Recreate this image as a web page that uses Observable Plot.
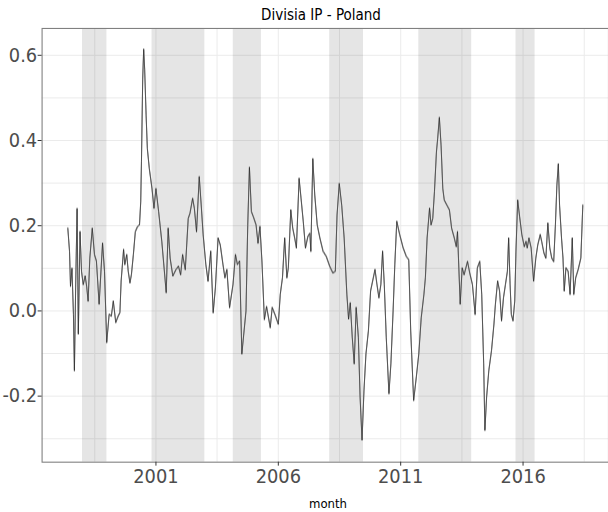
<!DOCTYPE html>
<html>
<head>
<meta charset="utf-8">
<script src="https://cdn.jsdelivr.net/npm/d3@7"></script>
<script src="https://cdn.jsdelivr.net/npm/@observablehq/plot@0.6"></script>
<style>
  html, body { margin: 0; padding: 0; background: #fff; }
  body { width: 608px; height: 512px; overflow: hidden; font-family: "Liberation Sans Narrow", "DejaVu Sans Condensed", "Liberation Sans", Arial, sans-serif; }
  #title { position: relative; height: 24px; }
  #title span { position: absolute; left: 0; width: 642px; top: 8px; text-align: center; font-size: 15px; line-height: 15px; color: #000; }
  #chart { width: 608px; height: 470px; overflow: hidden; }
  #xlab { position: relative; height: 18px; }
  #xlab span { position: absolute; left: 0; width: 656px; top: 3px; text-align: center; font-size: 13px; line-height: 13px; color: #000; }
</style>
</head>
<body>
<div id="title"><span>Divisia IP - Poland</span></div>
<div id="chart"></div>
<div id="xlab"><span>month</span></div>
<script>
// decimal-year time stamps and index values
const t = [
  1997.40,1997.47,1997.51,1997.57,1997.63,1997.67,1997.72,1997.78,1997.83,1997.90,1997.96,
  1998.03,1998.11,1998.17,1998.23,1998.30,1998.40,1998.49,1998.57,1998.68,1998.82,1998.90,1998.99,
  1999.09,1999.18,1999.26,1999.36,1999.46,1999.53,1999.58,1999.68,1999.73,1999.81,1999.87,1999.94,
  2000.00,2000.08,2000.16,2000.25,2000.33,2000.38,2000.41,2000.46,2000.50,2000.54,2000.60,2000.65,2000.73,2000.84,2000.92,
  2001.00,2001.11,2001.24,2001.42,2001.50,2001.58,2001.69,2001.82,2001.92,
  2002.01,2002.09,2002.20,2002.32,2002.39,2002.50,2002.57,2002.66,2002.77,2002.85,2002.93,
  2003.04,2003.13,2003.24,2003.34,2003.43,2003.54,2003.63,2003.74,2003.82,2003.90,
  2004.01,2004.15,2004.25,2004.33,2004.42,2004.51,2004.68,2004.75,2004.82,2004.90,2004.98,
  2005.09,2005.17,2005.25,2005.33,2005.43,2005.52,2005.67,2005.75,2005.86,
  2006.00,2006.08,2006.17,2006.26,2006.35,2006.41,2006.51,2006.59,2006.67,2006.74,2006.85,2006.93,
  2007.02,2007.11,2007.21,2007.29,2007.33,2007.41,2007.49,2007.59,2007.70,2007.83,2007.96,
  2008.10,2008.23,2008.33,2008.40,2008.49,2008.59,2008.69,2008.80,2008.87,2008.94,
  2009.02,2009.10,2009.18,2009.27,2009.34,2009.42,2009.50,2009.58,2009.68,2009.77,2009.95,
  2010.03,2010.11,2010.19,2010.26,2010.33,2010.41,2010.52,2010.60,2010.69,2010.76,2010.84,2010.96,
  2011.10,2011.23,2011.33,2011.41,2011.53,2011.64,2011.74,2011.84,2011.95,
  2012.01,2012.08,2012.18,2012.24,2012.31,2012.38,2012.46,2012.51,2012.58,2012.65,2012.72,2012.78,2012.89,2012.99,
  2013.08,2013.19,2013.27,2013.32,2013.36,2013.43,2013.51,2013.59,2013.73,2013.82,2013.93,
  2014.04,2014.13,2014.23,2014.31,2014.39,2014.44,2014.51,2014.60,2014.71,2014.81,2014.87,2014.96,
  2015.04,2015.12,2015.20,2015.28,2015.36,2015.41,2015.47,2015.52,2015.59,2015.66,2015.71,2015.78,2015.86,2015.95,
  2016.05,2016.12,2016.17,2016.24,2016.33,2016.43,2016.52,2016.60,2016.70,2016.76,2016.85,2016.93,
  2017.01,2017.09,2017.17,2017.25,2017.32,2017.38,2017.44,2017.49,2017.57,2017.63,2017.68,2017.75,2017.84,2017.92,
  2018.01,2018.07,2018.15,2018.25,2018.36,2018.44
];
const v = [
  0.194,0.14,0.058,0.10,-0.008,-0.14,0.054,0.24,-0.054,0.186,0.093,
  0.062,0.082,0.058,0.023,0.124,0.194,0.132,0.117,0.016,0.159,0.093,-0.074,
  -0.008,-0.012,0.023,-0.027,-0.012,-0.004,0.07,0.144,0.109,0.132,0.093,0.066,
  0.085,0.132,0.186,0.198,0.202,0.256,0.35,0.544,0.614,0.567,0.458,0.381,0.334,0.287,0.241,
  0.287,0.233,0.163,0.043,0.194,0.124,0.082,0.097,0.105,
  0.085,0.132,0.097,0.217,0.229,0.264,0.241,0.186,0.315,0.249,0.179,
  0.109,0.07,0.14,-0.004,0.054,0.171,0.155,0.109,0.078,0.097,
  0.008,0.062,0.132,0.109,0.117,-0.101,0.0,0.2,0.337,0.233,0.221,
  0.202,0.159,0.198,0.117,-0.02,0.01,-0.039,0.008,-0.008,
  -0.031,0.039,0.078,0.171,0.078,0.101,0.237,0.194,0.171,0.148,0.311,0.264,
  0.21,0.148,0.175,0.182,0.14,0.357,0.272,0.202,0.171,0.14,0.128,
  0.105,0.089,0.093,0.225,0.299,0.248,0.171,0.039,-0.019,0.019,
  -0.062,-0.124,0.008,-0.062,-0.202,-0.303,-0.186,-0.101,-0.047,0.047,0.097,
  0.062,0.031,0.062,0.14,0.062,-0.062,-0.194,-0.124,0.0,0.109,0.21,0.179,
  0.148,0.128,0.12,-0.047,-0.21,-0.155,-0.101,-0.016,0.039,
  0.078,0.171,0.241,0.202,0.217,0.28,0.373,0.404,0.454,0.388,0.287,0.26,0.248,0.237,
  0.194,0.171,0.151,0.186,0.124,0.016,0.101,0.085,0.116,0.089,0.062,
  -0.008,0.101,0.116,0.039,-0.124,-0.28,-0.202,-0.14,-0.093,-0.031,0.016,0.07,
  0.047,-0.023,0.031,0.062,0.093,0.171,0.062,-0.008,-0.023,0.023,0.14,0.26,0.221,0.179,
  0.151,0.163,0.148,0.171,0.148,0.07,0.124,0.155,0.179,0.163,0.136,0.124,
  0.206,0.148,0.124,0.116,0.202,0.295,0.345,0.248,0.171,0.124,0.047,0.101,0.093,0.039,
  0.171,0.039,0.078,0.097,0.124,0.248
];
// shaded periods (decimal years)
const bandStart = [1998.00, 2000.84, 2004.16, 2008.10, 2011.74, 2015.71];
const bandEnd   = [1999.00, 2003.00, 2005.31, 2009.48, 2013.90, 2016.49];
// axis ticks and grid
const xTickYears = [2001, 2006, 2011, 2016];
const xGridYears = [1998.5, 2001, 2003.5, 2006, 2008.5, 2011, 2013.5, 2016, 2018.5];
const yTicks = [-0.2, 0.0, 0.2, 0.4, 0.6];
const yGrid = [-0.3, -0.2, -0.1, 0.0, 0.1, 0.2, 0.3, 0.4, 0.5, 0.6];
const xDomainYears = [1996.35, 2019.49];
const yDomain = [-0.355, 0.663];

function toDate(y) {
  const yr = Math.floor(y);
  const s = Date.UTC(yr, 0, 1), e = Date.UTC(yr + 1, 0, 1);
  return new Date(s + (y - yr) * (e - s));
}

const data = t.map((d, i) => ({date: toDate(d), value: v[i]}));
const bands = bandStart.map((s, i) => ({start: toDate(s), end: toDate(bandEnd[i])}));

const font = '"Liberation Sans Narrow", "DejaVu Sans Condensed", "Liberation Sans", Arial, sans-serif';

const chart = Plot.plot({
  width: 614,
  height: 470,
  marginTop: 4,
  marginBottom: 28,
  marginLeft: 42,
  marginRight: 0,
  style: {fontFamily: font, background: "#fff"},
  x: {type: "utc", domain: xDomainYears.map(toDate)},
  y: {domain: yDomain},
  marks: [
    Plot.gridY(yGrid, {stroke: "#ebebeb", strokeOpacity: 1, strokeWidth: 1}),
    Plot.gridX(xGridYears.map(toDate), {stroke: "#ebebeb", strokeOpacity: 1, strokeWidth: 1}),
    Plot.rect(bands, {x1: "start", x2: "end", fill: "#000", fillOpacity: 0.1}),
    Plot.line(data, {x: "date", y: "value", stroke: "#a3a3a3", strokeWidth: 1, strokeOpacity: 0.9, dy: -1}),
    Plot.line(data, {x: "date", y: "value", stroke: "#a3a3a3", strokeWidth: 1, strokeOpacity: 0.9, dy: 1}),
    Plot.line(data, {x: "date", y: "value", stroke: "#111", strokeWidth: 0.55}),
    Plot.frame({stroke: "#808080", strokeWidth: 1.1}),
    Plot.axisY({ticks: yTicks, tickFormat: d => d.toFixed(1), fontSize: 20, tickSize: 4, tickPadding: 1, fill: "#4d4d4d", stroke: "#333", label: null}),
    Plot.axisX({ticks: xTickYears.map(toDate), tickFormat: d3.utcFormat("%Y"), fontSize: 20, tickSize: 4, tickPadding: 3, fill: "#4d4d4d", stroke: "#333", label: null})
  ]
});
document.getElementById("chart").appendChild(chart);
</script>
</body>
</html>
